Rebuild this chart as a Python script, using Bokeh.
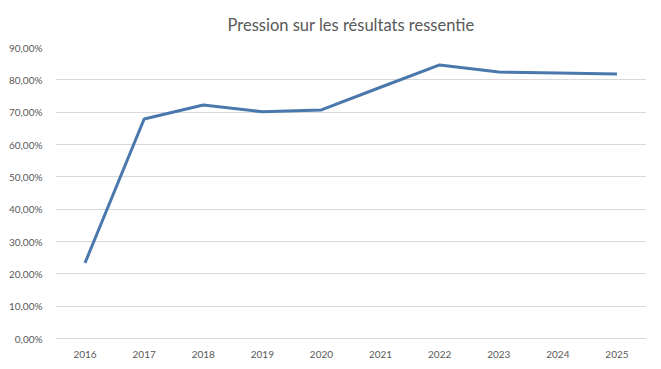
from bokeh.plotting import figure
from bokeh.models import FactorRange, Range1d, CustomJSTickFormatter, FixedTicker
from bokeh.embed import file_html
from bokeh.resources import INLINE

years = ["2016", "2017", "2018", "2019", "2020", "2021", "2022", "2023", "2024", "2025"]
values = [23.4, 67.9, 72.2, 70.1, 70.7, 77.7, 84.6, 82.4, 82.1, 81.8]
y_ticks = [0, 10, 20, 30, 40, 50, 60, 70, 80, 90]

p = figure(width=653, height=361, x_range=FactorRange(*years), y_range=Range1d(0, 90),
           output_backend="svg", toolbar_location=None,
           title="Pression sur les résultats ressentie",
           min_border_left=55, min_border_right=7, min_border_top=47, min_border_bottom=23)

p.line(years, values, line_color="#4A78AC", line_width=3)

p.title.align = "center"
p.title.text_font = "Lato"
p.title.text_font_size = "16.5px"
p.title.text_font_style = "normal"
p.title.text_color = "#595959"
p.title.offset = 0
p.title.standoff = 25

p.outline_line_color = None
p.background_fill_color = "white"
p.border_fill_color = "white"

p.xgrid.grid_line_color = None
p.ygrid.grid_line_color = "#D9D9D9"
p.ygrid.grid_line_width = 1

p.yaxis.ticker = FixedTicker(ticks=y_ticks)
p.yaxis.formatter = CustomJSTickFormatter(code="return tick.toFixed(2).replace('.', ',') + '%';")
p.yaxis.axis_line_color = None
p.yaxis.major_tick_line_color = None
p.yaxis.minor_tick_line_color = None
p.yaxis.major_label_text_font = "Lato"
p.yaxis.major_label_text_font_size = "10px"
p.yaxis.major_label_text_color = "#595959"
p.yaxis.major_label_standoff = 7

p.xaxis.axis_line_color = "#D9D9D9"
p.xaxis.major_tick_line_color = None
p.xaxis.minor_tick_line_color = None
p.xaxis.major_label_text_font = "Lato"
p.xaxis.major_label_text_font_size = "10px"
p.xaxis.major_label_text_color = "#595959"
p.xaxis.major_label_standoff = 6

open("out.html", "w").write(file_html(p, INLINE))
